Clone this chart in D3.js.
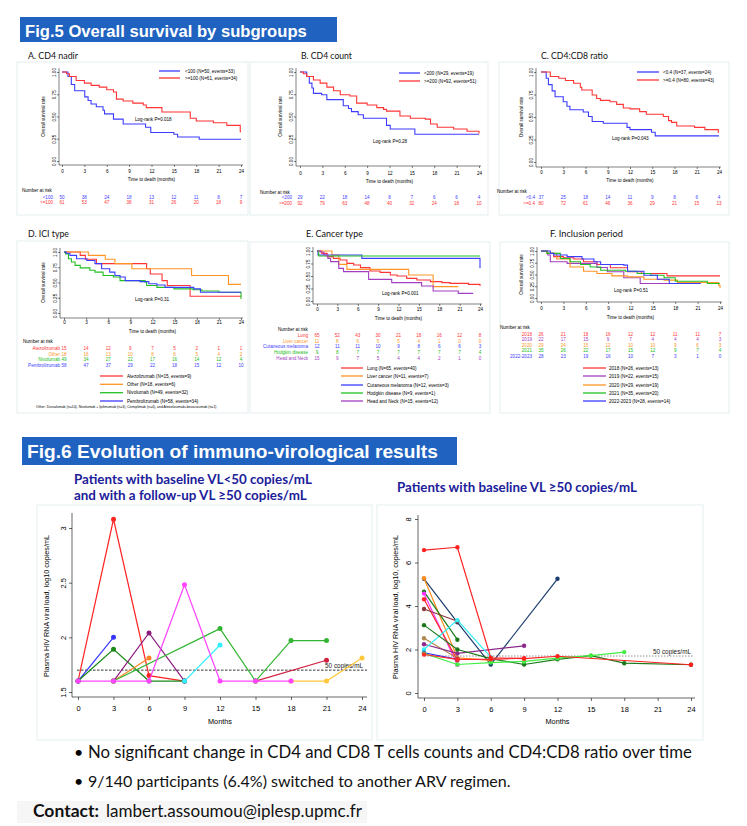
<!DOCTYPE html>
<html><head><meta charset="utf-8">
<script src="https://cdn.jsdelivr.net/npm/d3@7"></script>
<style>body{margin:0;background:#fff;} svg{display:block;}</style>
</head><body>
<script>
// ================= DATA =================
const monthTicks = [0,3,6,9,12,15,18,21,24];
const survTicks = [0,0.25,0.5,0.75,1];

// ---- Fig.5 A. CD4 nadir ----
const A_labels = ["<100", ">=100"];
const A_legend = ["<100 (N=50, events=33)", ">=100 (N=61, events=34)"];
const A_lt100 = [[0,1],[0.8,0.95],[1.25,0.86],[1.7,0.79],[3.05,0.72],[3.5,0.68],[3.9,0.64],[4.6,0.61],[5.5,0.57],[5.7,0.53],[6.9,0.47],[8.2,0.415],[11.2,0.38],[11.9,0.32],[15,0.30],[15.5,0.27],[18.4,0.245],[24,0.245]];
const A_ge100 = [[0,1],[0.6,0.98],[1,0.95],[1.9,0.905],[3,0.875],[3.9,0.85],[5,0.83],[6,0.80],[6.9,0.775],[7.3,0.695],[8.2,0.675],[9.5,0.65],[10.9,0.63],[11.3,0.60],[13.4,0.55],[17.2,0.48],[18,0.45],[20.3,0.43],[22.1,0.40],[23.9,0.33],[24,0.33]];
const A_risk_lt100 = [50,38,24,18,13,12,11,8,7];
const A_risk_ge100 = [61,53,47,38,31,26,20,18,9];

// ---- Fig.5 B. CD4 count ----
const B_labels = ["<200", ">=200"];
const B_legend = ["<200 (N=29, events=19)", ">=200 (N=92, events=51)"];
const B_lt200 = [[0,1],[0.9,0.95],[1.25,0.875],[1.6,0.82],[1.8,0.76],[2.9,0.745],[3.6,0.69],[5.8,0.62],[6.5,0.59],[6.9,0.555],[7.8,0.52],[8.5,0.48],[11.6,0.40],[12.1,0.36],[15.4,0.30],[24,0.30]];
const B_ge200 = [[0,1],[0.45,0.98],[0.9,0.95],[1.8,0.91],[2.7,0.875],[3.6,0.83],[4.5,0.79],[5.4,0.745],[6.7,0.73],[7.6,0.65],[9,0.63],[10.3,0.60],[11.2,0.58],[11.6,0.56],[13.4,0.505],[14.8,0.48],[16.8,0.47],[17.5,0.415],[18.4,0.38],[20.6,0.36],[22.4,0.335],[24,0.31]];
const B_risk_lt200 = [29,22,18,14,8,7,6,6,4];
const B_risk_ge200 = [92,79,63,48,40,32,24,18,10];

// ---- Fig.5 C. CD4:CD8 ratio ----
const C_labels = ["<0.4", ">=0.4"];
const C_legend = ["<0.4 (N=37, events=24)", ">=0.4 (N=80, events=43)"];
const C_lt04 = [[0,1],[0.7,0.93],[1,0.86],[1.5,0.79],[1.9,0.725],[3,0.67],[3.5,0.62],[3.9,0.58],[5.7,0.555],[6.4,0.505],[6.9,0.45],[8.4,0.43],[11.6,0.385],[12,0.36],[14.9,0.33],[15.4,0.29],[24,0.29]];
const C_ge04 = [[0,1],[1.25,0.95],[2.4,0.93],[3.3,0.905],[4.4,0.875],[5.3,0.83],[5.5,0.80],[6.9,0.745],[7.5,0.705],[8,0.685],[9.3,0.67],[10.2,0.64],[11.1,0.60],[12,0.59],[13.3,0.56],[14.2,0.53],[16.5,0.505],[17.2,0.46],[17.6,0.44],[18.3,0.40],[20.7,0.385],[22.1,0.36],[23.9,0.33],[24,0.33]];
const C_risk_lt04 = [37,25,18,14,11,9,8,6,4];
const C_risk_ge04 = [80,72,61,46,36,29,21,15,13];

// ---- Fig.5 D. ICI type ----
const D_labels = ["Atezolizumab","Other","Nivolumab","Pembrolizumab"];
const D_legend = ["Atezolizumab (N=15, events=9)","Other (N=18, events=6)","Nivolumab (N=49, events=32)","Pembrolizumab (N=58, events=34)"];
const D_atezo = [[0,1],[2.2,0.945],[2.9,0.88],[4.4,0.81],[11.2,0.725],[11.7,0.64],[13.3,0.53],[14,0.45],[17.1,0.275],[24,0.275]];
const D_other = [[0,1],[3.3,0.945],[5.6,0.88],[6.9,0.81],[9.2,0.725],[17.3,0.615],[22.3,0.47],[24,0.47]];
const D_nivo = [[0,1],[0.2,0.97],[0.6,0.89],[1,0.835],[1.5,0.78],[2.2,0.74],[3.5,0.70],[4.2,0.67],[5.3,0.615],[6.7,0.59],[7.6,0.53],[11,0.505],[11.2,0.45],[12.6,0.42],[14.9,0.395],[17.5,0.38],[18.7,0.36],[21,0.34],[24,0.23]];
const D_pembro = [[0,1],[0.3,0.98],[0.8,0.945],[1.7,0.89],[3.1,0.86],[4.2,0.81],[5.1,0.725],[6.2,0.67],[6.9,0.615],[7.6,0.59],[8.3,0.53],[10.3,0.515],[11.5,0.48],[12.6,0.46],[13.7,0.42],[17.6,0.395],[18.5,0.34],[24,0.34]];
const D_risk_atezo = [15,14,12,9,7,5,2,1,1];
const D_risk_other = [18,16,13,10,8,6,5,4,2];
const D_risk_nivo = [49,34,27,22,17,16,14,12,4];
const D_risk_pembro = [58,47,37,29,22,18,15,12,10];
const D_note = "Other: Durvalumab (n=10), Nivolumab + Ipilimumab (n=3), Cemiplimab (n=4), and Atezolizumab+bevacizumab (n=1)";

// ---- Fig.5 E. Cancer type ----
const E_labels = ["Lung","Liver cancer","Cutaneous melanoma","Hodgkin disease","Head and Neck"];
const E_legend = ["Lung (N=65, events=40)","Liver cancer (N=11, events=7)","Cutaneous melanoma (N=12, events=3)","Hodgkin disease (N=9, events=1)","Head and Neck (N=15, events=12)"];
const E_lung = [[0,1],[0.7,0.953],[1.5,0.887],[2.4,0.853],[3.4,0.82],[4.4,0.753],[5.4,0.72],[6.4,0.667],[7.8,0.60],[9.3,0.573],[10.8,0.52],[11.8,0.50],[13.2,0.453],[14.7,0.42],[16.7,0.387],[18.4,0.367],[19.6,0.353],[22.3,0.333],[24,0.30]];
const E_liver = [[0,1],[2.2,0.92],[3.2,0.733],[4.4,0.633],[13.5,0.52],[17.1,0.287],[20.8,0.287]];
const E_melanoma = [[0,1],[0.15,0.92],[6.6,0.853],[24,0.653]];
const E_hodgkin = [[0,1],[0.25,0.90],[24,0.90]];
const E_headneck = [[0,1],[0.5,0.98],[1,0.92],[1.6,0.853],[2,0.787],[3.2,0.653],[3.9,0.587],[7.6,0.433],[11,0.367],[15.4,0.30],[17.1,0.20],[20.8,0.153],[23,0.153]];
const E_risk_lung = [65,52,43,30,21,18,16,12,8];
const E_risk_liver = [11,8,6,5,5,4,1,0,0];
const E_risk_melanoma = [12,11,11,10,9,8,6,6,3];
const E_risk_hodgkin = [9,8,7,7,7,7,7,7,4];
const E_risk_headneck = [15,9,7,5,4,4,2,1,0];

// ---- Fig.5 F. Inclusion period ----
const F_labels = ["2018","2019","2020","2021","2022-2023"];
const F_legend = ["2018 (N=26, events=13)","2019 (N=22, events=15)","2020 (N=29, events=19)","2021 (N=35, events=20)","2022-2023 (N=28, events=14)"];
const F_2018 = [[0,1],[0.8,0.95],[1.7,0.88],[3,0.857],[4.4,0.83],[5.7,0.77],[7.5,0.714],[9.3,0.643],[11.6,0.557],[13.5,0.52],[16.9,0.47],[24,0.47]];
const F_2019 = [[0,1],[0.9,0.914],[1.25,0.77],[3.5,0.736],[7.5,0.65],[8.9,0.557],[11.1,0.43],[13.3,0.307],[21.4,0.307]];
const F_2020 = [[0,1],[0.8,0.95],[2.1,0.83],[3.9,0.66],[5.7,0.57],[7.5,0.52],[9.5,0.47],[11.6,0.45],[13.8,0.40],[16.5,0.38],[18.3,0.33],[23.8,0.27],[24,0.21]];
const F_2021 = [[0,1],[0.8,0.95],[2.6,0.84],[3.9,0.77],[5.3,0.714],[6.6,0.66],[8,0.59],[11.3,0.57],[12.9,0.52],[14.7,0.485],[16.5,0.43],[18,0.357],[22.3,0.307],[24,0.307]];
const F_2022 = [[0,1],[1.25,0.95],[1.7,0.914],[3.5,0.88],[5.5,0.83],[7.1,0.77],[8,0.714],[11.1,0.70],[11.6,0.57],[13.8,0.485],[15.6,0.40],[17.2,0.307],[21.4,0.307]];
const F_risk_2018 = [26,21,18,16,12,12,11,11,7];
const F_risk_2019 = [22,17,15,9,7,4,4,4,3];
const F_risk_2020 = [29,24,15,12,10,10,9,6,3];
const F_risk_2021 = [35,26,22,17,15,12,9,7,4];
const F_risk_2022 = [28,23,19,16,10,7,3,1,0];

// ---- Fig.6 left: baseline VL<50 and follow-up VL>=50 ----
const vlTicksLeft = [1.5,2,2.5,3];
const L_red = [[0,1.6],[3,3.08],[6,1.65],[9,1.6]];
const L_blue = [[0,1.6],[3,2.0]];
const L_darkgreen = [[0,1.6],[3,1.89],[6,1.6],[9,1.6]];
const L_orange = [[3,1.6],[6,1.81]];
const L_purple = [[3,1.6],[6,2.04],[9,1.6]];
const L_cyan = [[9,1.6],[12,1.93]];
const L_crimson = [[15,1.6],[21,1.79]];
const L_gold = [[18,1.6],[21,1.6],[24,1.81]];
const L_green = [[3,1.6],[12,2.08],[15,1.6],[18,1.97],[21,1.97]];
const L_magenta = [[0,1.6],[3,1.6],[6,1.6],[9,2.48],[12,1.6],[15,1.6],[18,1.6]];

// ---- Fig.6 right: baseline VL>=50 ----
const vlTicksRight = [0,2,4,6,8];
const R_navy = [[0,5.25],[3,3.25],[6,1.31],[12,5.25]];
const R_orange = [[0,5.28],[3,1.62],[6,1.5]];
const R_darkgreen1 = [[0,4.66],[3,2.45]];
const R_magenta = [[0,4.57],[3,1.3]];
const R_red2 = [[0,4.31],[3,1.5]];
const R_brown = [[0,3.86],[3,3.3]];
const R_darkgreen2 = [[0,3.12],[3,2.0],[6,1.58],[9,1.31],[12,1.55],[15,1.72],[18,1.37],[24,1.3]];
const R_tan = [[0,2.52],[3,1.6]];
const R_purple = [[0,2.24],[3,1.82],[9,2.17]];
const R_cyan = [[0,2.0],[3,3.35],[6,1.65]];
const R_blue = [[0,1.85],[3,1.55]];
const R_lightgreen = [[0,1.82],[3,1.31],[6,1.4],[9,1.45],[12,1.6],[15,1.72],[18,1.88]];
const R_red3 = [[0,1.77],[3,1.55],[6,1.55],[9,1.6]];
const R_red1 = [[0,6.57],[3,6.7],[6,1.62],[9,1.58],[12,1.69],[24,1.3]];
const threshold = 1.7;

// ================= DRAWING =================
const W = 747, H = 826;
const svg = d3.select("body").append("svg").attr("width", W).attr("height", H);
const SANS = "'Liberation Sans', Arial, sans-serif";
const CAL = "Lato, 'Open Sans', sans-serif";
const KF = 4.6;
const col = {red:"#ff3535", blue:"#3d3dff", orange:"#ff9526", green:"#22c022", purple:"#a23ec2"};

function fit(t, w){
  const cur = t.node().getComputedTextLength();
  const fs = parseFloat(t.attr("font-size"));
  if (cur > 0) t.attr("font-size", fs * w / cur);
  return t;
}

// Frames
const frameColor = "#e3eef0";
[[17,62,231,153],[250,62,238,153],[499,62,230,153],[17,241,231,172],[250,242,240,171],[500,242,229,171],[37,505,335,235],[377,505,326,235]]
.forEach(r => svg.append("rect").attr("x",r[0]).attr("y",r[1]).attr("width",r[2]).attr("height",r[3])
  .attr("fill","none").attr("stroke",frameColor).attr("stroke-width",1));

// Title bars
function titleBar(x, y, w, h, txt, tx, base, tw){
  svg.append("rect").attr("x",x).attr("y",y).attr("width",w).attr("height",h).attr("fill","#1f62bf");
  const t = svg.append("text").attr("x",tx).attr("y",base).attr("fill","#fff")
    .attr("font-family",SANS).attr("font-weight","bold").attr("font-size",20).text(txt);
  fit(t, tw);
}
titleBar(20,17,317,25,"Fig.5 Overall survival by subgroups",25,36.5,282);
titleBar(22,437,435,28,"Fig.6 Evolution of immuno-virological results",27,457.5,411);

function drawKM(p){
  const g = svg.append("g");
  const x = d3.scaleLinear().domain([0,24]).range([p.x0,p.x1]);
  const y = d3.scaleLinear().domain([0,1]).range([p.yb,p.yt]);
  // title
  fit(svg.append("text").attr("x",p.tX).attr("y",p.tY).attr("font-family",CAL).attr("font-size",10.5)
    .attr("fill","#111").text(p.title), p.tW);
  // x axis
  const xa = g.append("g").attr("transform",`translate(0,${p.xAxisY})`)
    .call(d3.axisBottom(x).tickValues(monthTicks).tickSize(2).tickFormat(d3.format("d")));
  xa.select(".domain").remove();
  xa.attr("font-size",KF).attr("font-family",SANS);
  xa.selectAll("line").attr("stroke-width",0.5);
  xa.selectAll("text").attr("y",p.tickLabY - p.xAxisY).attr("dy","0.35em");
  g.append("line").attr("x1",p.yAxisX).attr("x2",x(24)+2).attr("y1",p.xAxisY).attr("y2",p.xAxisY)
    .attr("stroke","#000").attr("stroke-width",0.5);
  // y axis
  const ya = g.append("g").attr("transform",`translate(${p.yAxisX},0)`)
    .call(d3.axisLeft(y).tickValues(survTicks).tickSize(2).tickFormat(d3.format(".2f")));
  ya.select(".domain").remove();
  ya.attr("font-size",KF).attr("font-family",SANS);
  ya.selectAll("line").attr("stroke-width",0.5);
  ya.selectAll("text").attr("x",null).attr("dy",null).attr("text-anchor","middle")
    .attr("transform","translate(-3.3,0) rotate(-90)");
  g.append("line").attr("x1",p.yAxisX).attr("x2",p.yAxisX).attr("y1",p.xAxisY).attr("y2",y(1)-4)
    .attr("stroke","#000").attr("stroke-width",0.5);
  // labels
  g.append("text").attr("x",(p.x0+p.x1)/2).attr("y",p.xlabY).attr("dy","0.35em").attr("text-anchor","middle")
    .attr("font-family",SANS).attr("font-size",KF).text("Time to death (months)");
  if (p.ylabX) g.append("text").attr("transform",`translate(${p.ylabX},${(p.yb+p.yt)/2}) rotate(-90)`)
    .attr("dy","0.35em").attr("text-anchor","middle").attr("font-family",SANS).attr("font-size",KF).text("Overall survival rate");
  // curves
  const line = d3.line().curve(d3.curveStepAfter).x(d=>x(d[0])).y(d=>y(d[1]));
  p.series.forEach(s => g.append("path").datum(s.data).attr("d",line).attr("fill","none")
    .attr("stroke",s.color).attr("stroke-width",1.1));
  // log-rank
  g.append("text").attr("x",p.lrX).attr("y",p.lrY).attr("dy","0.35em").attr("font-family",SANS)
    .attr("font-size",KF).text(p.pval);
  // legend
  p.series.forEach((s,i) => {
    g.append("line").attr("x1",p.legX1).attr("x2",p.legX2).attr("y1",p.legY[i]).attr("y2",p.legY[i])
      .attr("stroke",s.color).attr("stroke-width",1.3);
    g.append("text").attr("x",p.legTextX).attr("y",p.legY[i]).attr("dy","0.35em").attr("font-family",SANS)
      .attr("font-size",KF).text(s.legend);
  });
  // risk table
  g.append("text").attr("x",p.rtX).attr("y",p.rtY).attr("dy","0.35em").attr("font-family",SANS)
    .attr("font-size",KF).text("Number at risk");
  p.series.forEach((s,i) => {
    const ry = p.rowsY[i];
    g.append("text").attr("x",p.rlX).attr("y",ry).attr("dy","0.35em").attr("text-anchor","end")
      .attr("font-family",SANS).attr("font-size",KF).attr("fill",s.color).text(s.label);
    g.selectAll(null).data(s.risk).join("text").attr("x",(d,j)=>x(monthTicks[j])).attr("y",ry)
      .attr("dy","0.35em").attr("text-anchor","middle").attr("font-family",SANS).attr("font-size",KF)
      .attr("fill",s.color).text(d=>d);
  });
}

function mk(datas, colors, legends, labels, risks){
  return datas.map((d,i)=>({data:d, color:colors[i], legend:legends[i], label:labels[i], risk:risks[i]}));
}

drawKM({title:"A. CD4 nadir", tX:28, tY:59, tW:50,
  x0:62,x1:241,yb:161,yt:72,xAxisY:165,yAxisX:59,tickLabY:171,xlabY:179,ylabX:43,
  legX1:159,legX2:180,legTextX:185,legY:[71,78],lrX:135,lrY:119,pval:"Log-rank P=0.018",
  rtX:22,rtY:190,rowsY:[197,202.5],rlX:53,
  series:mk([A_lt100,A_ge100],[col.blue,col.red],A_legend,A_labels,[A_risk_lt100,A_risk_ge100])});
drawKM({title:"B. CD4 count", tX:301, tY:59, tW:51,
  x0:300,x1:479,yb:161,yt:72,xAxisY:166,yAxisX:296,tickLabY:173,xlabY:181,ylabX:280,
  legX1:399,legX2:420,legTextX:424,legY:[73,81],lrX:373,lrY:141,pval:"Log-rank P=0.28",
  rtX:260,rtY:192,rowsY:[197,203],rlX:292,
  series:mk([B_lt200,B_ge200],[col.blue,col.red],B_legend,B_labels,[B_risk_lt200,B_risk_ge200])});
drawKM({title:"C. CD4:CD8 ratio", tX:541, tY:59, tW:67,
  x0:541,x1:719,yb:162,yt:72,xAxisY:167,yAxisX:536,tickLabY:172.5,xlabY:180,ylabX:521,
  legX1:637,legX2:659,legTextX:663,legY:[72,80],lrX:612,lrY:138,pval:"Log-rank P=0.043",
  rtX:497,rtY:191,rowsY:[197,203],rlX:535,
  series:mk([C_lt04,C_ge04],[col.blue,col.red],C_legend,C_labels,[C_risk_lt04,C_risk_ge04])});
drawKM({title:"D. ICI type", tX:28, tY:237, tW:41,
  x0:64,x1:241,yb:313,yt:252,xAxisY:318,yAxisX:60,tickLabY:322.5,xlabY:331,ylabX:43,
  legX1:100,legX2:123,legTextX:127,legY:[376,384.3,392.7,401],lrX:135,lrY:299,pval:"Log-rank P=0.31",
  rtX:23,rtY:341,rowsY:[348.7,354.3,359.7,365.3],rlX:60,
  series:mk([D_atezo,D_other,D_nivo,D_pembro],[col.red,col.orange,col.green,col.blue],D_legend,D_labels,
    [D_risk_atezo,D_risk_other,D_risk_nivo,D_risk_pembro])});
fit(svg.append("text").attr("x",36).attr("y",407).attr("dy","0.35em").attr("font-family",SANS).attr("font-size",3.3).text(D_note),181);
drawKM({title:"E. Cancer type", tX:306, tY:237, tW:57,
  x0:317,x1:480,yb:301,yt:251,xAxisY:304,yAxisX:313,tickLabY:309,xlabY:318,ylabX:null,
  legX1:341,legX2:363,legTextX:367,legY:[368,376,385,393,401],lrX:382,lrY:293,pval:"Log-rank P=0.001",
  rtX:278,rtY:329,rowsY:[335,341,346.5,352,358],rlX:308,
  series:mk([E_lung,E_liver,E_melanoma,E_hodgkin,E_headneck],[col.red,col.orange,col.blue,col.green,col.purple],E_legend,E_labels,
    [E_risk_lung,E_risk_liver,E_risk_melanoma,E_risk_hodgkin,E_risk_headneck])});
drawKM({title:"F. Inclusion period", tX:550, tY:237, tW:73,
  x0:541,x1:720,yb:298,yt:251,xAxisY:302,yAxisX:537,tickLabY:308.5,xlabY:317,ylabX:521,
  legX1:583,legX2:606,legTextX:609,legY:[368,376,385,393,401],lrX:614,lrY:290,pval:"Log-rank P=0.51",
  rtX:500,rtY:327,rowsY:[334,339.7,345,350.3,356],rlX:532,
  series:mk([F_2018,F_2019,F_2020,F_2021,F_2022],[col.red,col.purple,col.orange,col.green,col.blue],F_legend,F_labels,
    [F_risk_2018,F_risk_2019,F_risk_2020,F_risk_2021,F_risk_2022])});

// ---- Fig.6 ----
const NAVY = "#20209a";
fit(svg.append("text").attr("x",74).attr("y",483.5).attr("font-family",CAL).attr("font-weight","bold").attr("font-size",14).attr("fill",NAVY)
  .text("Patients with baseline VL<50 copies/mL"),238);
fit(svg.append("text").attr("x",74).attr("y",499.5).attr("font-family",CAL).attr("font-weight","bold").attr("font-size",14).attr("fill",NAVY)
  .text("and with a follow-up VL \u226550 copies/mL"),233);
fit(svg.append("text").attr("x",397).attr("y",491.5).attr("font-family",CAL).attr("font-weight","bold").attr("font-size",14).attr("fill",NAVY)
  .text("Patients with baseline VL \u226550 copies/mL"),240);

function drawVL(p){
  const g = svg.append("g");
  const x = d3.scaleLinear().domain([0,24]).range([p.x0,p.x1]);
  const y = d3.scaleLinear().domain(p.yDom).range([p.yb,p.yt]);
  const xa = g.append("g").attr("transform",`translate(0,${p.xAxisY})`)
    .call(d3.axisBottom(x).tickValues(monthTicks).tickSize(3).tickFormat(d3.format("d")));
  xa.select(".domain").remove();
  xa.attr("font-size",7.5).attr("font-family",SANS);
  xa.selectAll("line").attr("stroke-width",0.6);
  xa.selectAll("text").attr("y",11).attr("dy","0.35em");
  g.append("line").attr("x1",p.yAxisX).attr("x2",p.xEnd).attr("y1",p.xAxisY).attr("y2",p.xAxisY).attr("stroke","#000").attr("stroke-width",0.6);
  const ya = g.append("g").attr("transform",`translate(${p.yAxisX},0)`)
    .call(d3.axisLeft(y).tickValues(p.yTicks).tickSize(3).tickFormat(d=>String(d)));
  ya.select(".domain").remove();
  ya.attr("font-size",7.5).attr("font-family",SANS);
  ya.selectAll("line").attr("stroke-width",0.6);
  ya.selectAll("text").attr("x",null).attr("dy",null).attr("text-anchor","middle")
    .attr("transform",`translate(${p.ytOff},0) rotate(-90)`);
  g.append("line").attr("x1",p.yAxisX).attr("x2",p.yAxisX).attr("y1",p.xAxisY).attr("y2",p.yTop).attr("stroke","#000").attr("stroke-width",0.6);
  g.append("text").attr("x",(p.x0+p.x1)/2).attr("y",721).attr("dy","0.35em").attr("text-anchor","middle")
    .attr("font-family",SANS).attr("font-size",7.3).text("Months");
  g.append("text").attr("transform",`translate(${p.ylabX},${p.ylabY}) rotate(-90)`).attr("dy","0.35em")
    .attr("text-anchor","middle").attr("font-family",SANS).attr("font-size",7.2).text(p.ylab);
  // threshold
  g.append("line").attr("x1",p.dashX1).attr("x2",p.dashX2).attr("y1",y(threshold)).attr("y2",y(threshold))
    .attr("stroke",p.dashColor).attr("stroke-width",0.8).attr("stroke-dasharray",p.dash);
  g.append("text").attr("x",p.thrX).attr("y",y(threshold)-2).attr("font-family",SANS).attr("font-size",6.4).attr("fill","#222").text("50 copies/mL");
  const line = d3.line().x(d=>x(d[0])).y(d=>y(d[1]));
  p.series.forEach(s => {
    g.append("path").datum(s.data).attr("d",line).attr("fill","none").attr("stroke",s.color).attr("stroke-width",1.2);
    g.selectAll(null).data(s.data).join("circle").attr("cx",d=>x(d[0])).attr("cy",d=>y(d[1])).attr("r",p.r).attr("fill",s.color);
  });
}

drawVL({x0:78,x1:362,yDom:[1.5,3],yb:692,yt:528,xAxisY:697,yAxisX:72,xEnd:367,yTop:513,yTicks:vlTicksLeft,ytOff:-6,
  ylabX:46,ylabY:606,ylab:"Plasma HIV RNA viral load, log10 copies/mL",dashX1:77,dashX2:367,dashColor:"#000",dash:"2.5,1.5",thrX:325,r:2.5,
  series:[{data:L_red,color:"#ff2424"},{data:L_blue,color:"#3535ff"},{data:L_darkgreen,color:"#1a8a1a"},{data:L_orange,color:"#ff8426"},
    {data:L_purple,color:"#8b1a7c"},{data:L_cyan,color:"#33eeff"},{data:L_crimson,color:"#d0203e"},{data:L_gold,color:"#ffc83c"},
    {data:L_green,color:"#33b533"},{data:L_magenta,color:"#ff44ff"}]});
drawVL({x0:424,x1:691,yDom:[0,8],yb:693,yt:519,xAxisY:698,yAxisX:418,xEnd:695,yTop:515,yTicks:vlTicksRight,ytOff:-7,
  ylabX:395,ylabY:607,ylab:"Plasma HIV RNA viral load, log10, copies/mL",dashX1:424,dashX2:693,dashColor:"#777",dash:"1.5,1.5",thrX:653,r:2.2,
  series:[{data:R_navy,color:"#1b3d6e"},{data:R_orange,color:"#ff8c1a"},{data:R_darkgreen1,color:"#1a7a1a"},{data:R_magenta,color:"#ff33ff"},
    {data:R_red2,color:"#ff2a2a"},{data:R_brown,color:"#8b3a3a"},{data:R_tan,color:"#b08850"},{data:R_purple,color:"#8b2a8b"},
    {data:R_cyan,color:"#33eef5"},{data:R_darkgreen2,color:"#1a7a1a"},{data:R_blue,color:"#2a2aff"},{data:R_lightgreen,color:"#44ee44"},
    {data:R_red3,color:"#ff2a2a"},{data:R_red1,color:"#ff2020"}]});

// bullets
[["No significant change in CD4 and CD8 T cells counts and CD4:CD8 ratio over time",758,604],
 ["9/140 participants (6.4%) switched to another ARV regimen.",787,423]].forEach(b=>{
  svg.append("text").attr("x",74).attr("y",b[1]).attr("font-family",CAL).attr("font-size",16).text("\u2022");
  fit(svg.append("text").attr("x",88).attr("y",b[1]).attr("font-family",CAL).attr("font-size",16).attr("fill","#111").text(b[0]), b[2]);
});
svg.append("rect").attr("x",17).attr("y",801).attr("width",350).attr("height",22).attr("fill","#f6f6f6");
fit(svg.append("text").attr("x",33).attr("y",817).attr("font-family",CAL).attr("font-weight","bold").attr("font-size",15).attr("fill","#111").text("Contact:"),66);
fit(svg.append("text").attr("x",106).attr("y",817).attr("font-family",CAL).attr("font-size",15).attr("fill","#111").text("lambert.assoumou@iplesp.upmc.fr"),256);
</script>
</body></html>
